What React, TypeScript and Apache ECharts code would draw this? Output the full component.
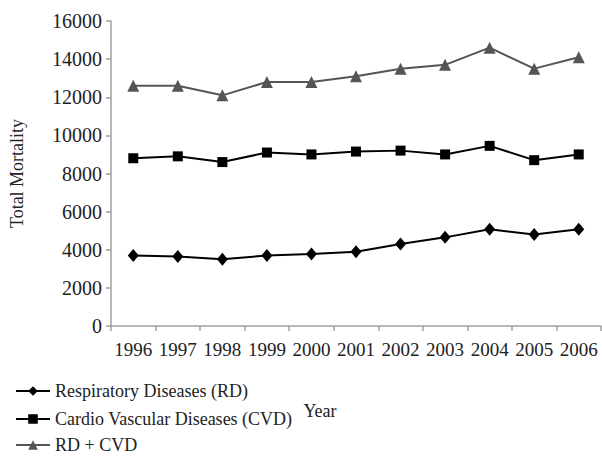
import React, { useEffect, useRef } from "react";
import * as echarts from "echarts";

const years = ["1996", "1997", "1998", "1999", "2000", "2001", "2002", "2003", "2004", "2005", "2006"];
const rdValues = [3700, 3650, 3500, 3700, 3780, 3900, 4300, 4650, 5070, 4800, 5070];
const cvdValues = [8800, 8900, 8600, 9100, 9000, 9150, 9200, 9000, 9450, 8700, 9000];
const totalValues = [12600, 12600, 12100, 12800, 12800, 13100, 13500, 13700, 14600, 13500, 14100];
const seriesNames = ["Respiratory Diseases (RD)", "Cardio Vascular Diseases (CVD)", "RD + CVD"];

const FONT = "'Liberation Serif', 'Times New Roman', serif";

export default function App() {
  const ref = useRef<HTMLDivElement>(null);
  useEffect(() => {
    if (!ref.current) return;
    const chart = echarts.init(ref.current, null, { renderer: "svg" });
    const axisGray = "#a0a0a0";
    const legendTops = [382, 410, 436];
    chart.setOption({
      animation: false,
      backgroundColor: "#ffffff",
      grid: { left: 106, top: 21, right: 1, bottom: 134, containLabel: false },
      legend: seriesNames.map((n, i) => ({
        orient: "vertical",
        left: 15,
        top: legendTops[i],
        padding: 0,
        itemWidth: 34,
        itemHeight: 12,
        lineStyle: { width: 2 },
        textStyle: { fontFamily: FONT, fontSize: 18, color: "#222" },
        data: [n],
      })),
      xAxis: {
        type: "category",
        data: years,
        boundaryGap: true,
        name: "Year",
        nameLocation: "middle",
        nameGap: 76,
        nameTextStyle: { fontFamily: FONT, fontSize: 18, color: "#222", padding: [0, 72, 0, 0] },
        axisLine: { lineStyle: { color: axisGray, width: 1.5 } },
        axisTick: { show: true, alignWithLabel: false, length: 5, lineStyle: { color: axisGray, width: 1.5 } },
        axisLabel: { fontFamily: FONT, fontSize: 19, color: "#222", margin: 14, interval: 0 },
        splitLine: { show: false },
      },
      yAxis: {
        type: "value",
        min: 0,
        max: 16000,
        interval: 2000,
        name: "Total Mortality",
        nameLocation: "middle",
        nameGap: 85,
        nameTextStyle: { fontFamily: FONT, fontSize: 18, color: "#222" },
        axisLine: { show: true, lineStyle: { color: axisGray, width: 1.5 } },
        axisTick: { show: true, length: 5, lineStyle: { color: axisGray, width: 1.5 } },
        axisLabel: { fontFamily: FONT, fontSize: 20, color: "#222", margin: 9, formatter: (v: number) => String(v) },
        splitLine: { show: false },
      },
      series: [
        {
          name: seriesNames[0],
          type: "line",
          data: rdValues,
          symbol: "diamond",
          symbolSize: [11, 13],
          itemStyle: { color: "#000" },
          lineStyle: { color: "#000", width: 2 },
        },
        {
          name: seriesNames[1],
          type: "line",
          data: cvdValues,
          symbol: "rect",
          symbolSize: 10,
          itemStyle: { color: "#000" },
          lineStyle: { color: "#000", width: 2 },
        },
        {
          name: seriesNames[2],
          type: "line",
          data: totalValues,
          symbol: "triangle",
          symbolSize: 12,
          itemStyle: { color: "#555" },
          lineStyle: { color: "#555", width: 2 },
        },
      ],
    });
    return () => chart.dispose();
  }, []);
  return <div ref={ref} style={{ width: 602, height: 460, position: "absolute", left: 0, top: 0 }} />;
}
